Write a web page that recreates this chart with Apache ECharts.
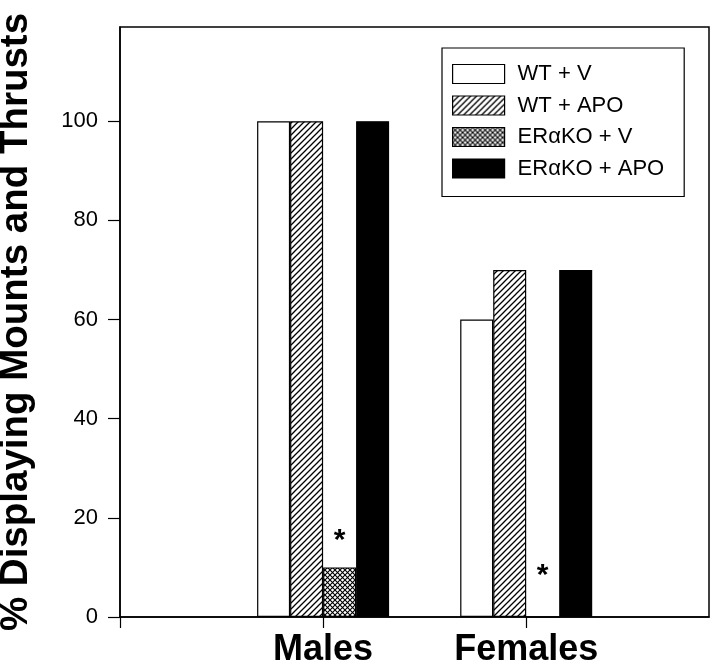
<!DOCTYPE html>
<html>
<head>
<meta charset="utf-8">
<script src="https://cdn.jsdelivr.net/npm/echarts@6/dist/echarts.min.js"></script>
<style>
  html, body { margin: 0; padding: 0; background: #fff; }
  #chart { width: 720px; height: 669px; }
</style>
</head>
<body>
<div id="chart"></div>
<script>
// Data
var groupNames = ['', 'Males', 'Females'];
var groupPos = [1, 2];
var seriesNames = ['WT + V', 'WT + APO', 'ER\u03b1KO + V', 'ER\u03b1KO + APO'];
var wtV = [100, 60];
var wtApo = [100, 70];
var koV = [10, 0];
var koApo = [100, 70];
var yTicks = [0, 20, 40, 60, 80, 100];

// Fill patterns
function makeHatch() {
    var c = document.createElement('canvas');
    c.width = 6; c.height = 6;
    var g = c.getContext('2d');
    g.fillStyle = '#fff';
    g.fillRect(0, 0, 6, 6);
    g.strokeStyle = '#000';
    g.lineWidth = 1.3;
    g.beginPath();
    g.moveTo(0, 6); g.lineTo(6, 0);
    g.moveTo(-1, 1); g.lineTo(1, -1);
    g.moveTo(5, 7); g.lineTo(7, 5);
    g.stroke();
    return c;
}
function makeCross() {
    var c = document.createElement('canvas');
    c.width = 5; c.height = 5;
    var g = c.getContext('2d');
    g.fillStyle = '#fff';
    g.fillRect(0, 0, 5, 5);
    g.strokeStyle = '#000';
    g.lineWidth = 1.1;
    g.beginPath();
    g.moveTo(0, 5); g.lineTo(5, 0);
    g.moveTo(0, 0); g.lineTo(5, 5);
    g.stroke();
    return c;
}

var fills = [
    '#fff',
    { image: makeHatch(), repeat: 'repeat' },
    { image: makeCross(), repeat: 'repeat' },
    '#000'
];
var values = [wtV, wtApo, koV, koApo];
var starDist = [12, 26];

var myChart = echarts.init(document.getElementById('chart'));

var series = seriesNames.map(function(name, i) {
    return {
        name: name,
        type: 'bar',
        barWidth: 33,
        barGap: '0%',
        itemStyle: { color: fills[i], borderColor: '#000', borderWidth: 1.2 },
        data: values[i].map(function(v, j) {
            var item = { value: [groupPos[j], v] };
            if (i === 2) {
                item.label = {
                    show: true, position: 'top', distance: starDist[j],
                    formatter: '*', fontSize: 30, fontWeight: 'bold',
                    fontFamily: 'Liberation Sans', color: '#000'
                };
            }
            return item;
        })
    };
});

var option = {
    animation: false,
    backgroundColor: '#fff',
    grid: {
        left: 120, right: 11, top: 27, bottom: 52,
        show: true, borderColor: '#000', borderWidth: 1.5,
        containLabel: false,
        outerBoundsMode: 'none'
    },
    legend: {
        data: seriesNames,
        orient: 'vertical',
        left: 442, top: 48,
        padding: [15, 20, 17, 10],
        icon: 'rect',
        itemWidth: 52, itemHeight: 19, itemGap: 9.5,
        borderColor: '#000', borderWidth: 1.2,
        backgroundColor: '#fff',
        itemStyle: { borderColor: '#000', borderWidth: 1.2 },
        textStyle: {
            fontFamily: 'Liberation Sans', fontSize: 22, color: '#000',
            padding: [0, 0, 0, 8]
        }
    },
    xAxis: {
        type: 'value',
        min: 0, max: 2.9, interval: 1,
        splitLine: { show: false },
        axisLine: { show: true, lineStyle: { color: '#000', width: 1.5 } },
        axisTick: { show: true, inside: false, length: 11, lineStyle: { color: '#000', width: 1.2 } },
        axisLabel: {
            margin: 15,
            fontFamily: 'Liberation Sans',
            fontWeight: 'bold', fontSize: 36, color: '#000',
            showMaxLabel: false,
            formatter: function(v) { return groupNames[v] || ''; }
        }
    },
    yAxis: {
        type: 'value',
        min: 0, max: 119, interval: 20,
        name: '% Displaying Mounts and Thrusts',
        nameLocation: 'middle',
        nameRotate: 90,
        nameGap: 84,
        nameTextStyle: {
            fontFamily: 'Liberation Sans',
            fontWeight: 'bold', fontSize: 38.5, color: '#000'
        },
        splitLine: { show: false },
        axisLine: { show: true, lineStyle: { color: '#000', width: 1.5 } },
        axisTick: { show: true, inside: false, length: 12, lineStyle: { color: '#000', width: 1.2 } },
        axisLabel: {
            margin: 22,
            fontFamily: 'Liberation Sans', fontSize: 22, color: '#000',
            showMaxLabel: false,
            formatter: function(v) { return yTicks.indexOf(v) >= 0 ? String(v) : ''; }
        }
    },
    series: series
};

myChart.setOption(option);
</script>
</body>
</html>
